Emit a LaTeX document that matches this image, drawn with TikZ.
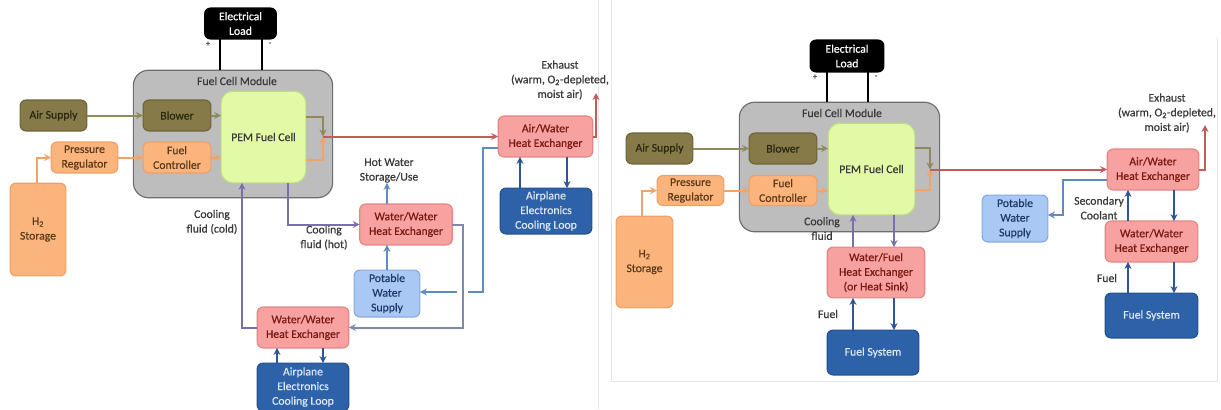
\documentclass[tikz,border=0pt]{standalone}
\usepackage{fontspec}
\setmainfont{Carlito}
\newfontfamily\dfam{Carlito}[FakeBold=0.6]
\usetikzlibrary{arrows.meta,calc}
\definecolor{olvF}{HTML}{857A48}
\definecolor{olvD}{HTML}{6E6438}
\definecolor{olvT}{HTML}{2A2812}
\definecolor{orgF}{HTML}{FBB47C}
\definecolor{orgD}{HTML}{EFA068}
\definecolor{orgT}{HTML}{5C3A1C}
\definecolor{pemF}{HTML}{E2FAA6}
\definecolor{pemD}{HTML}{C2DC86}
\definecolor{modF}{HTML}{BDBDBD}
\definecolor{modD}{HTML}{6E6E6E}
\definecolor{hxF}{HTML}{F7A2A0}
\definecolor{hxD}{HTML}{E48684}
\definecolor{hxT}{HTML}{7A1A14}
\definecolor{dbF}{HTML}{2E62A8}
\definecolor{dbD}{HTML}{24528E}
\definecolor{dbT}{HTML}{DCE6F4}
\definecolor{lbF}{HTML}{A9C8F4}
\definecolor{lbD}{HTML}{86AAE0}
\definecolor{lbT}{HTML}{1F3A6A}
\definecolor{redL}{HTML}{C55A5A}
\definecolor{olvL}{HTML}{8E8A5C}
\definecolor{orgL}{HTML}{F2A468}
\definecolor{purL}{HTML}{7770AA}
\definecolor{gbL}{HTML}{7D89AE}
\definecolor{stL}{HTML}{5E8BC0}
\definecolor{dbL}{HTML}{2F5597}
\definecolor{lblT}{HTML}{3A3A3A}
\definecolor{frameC}{HTML}{E4E4E4}
\newcommand\dfont{\dfam\fontsize{10}{12.5}\selectfont}
\tikzset{
  sz/.style 2 args={minimum width={#1*0.8504pt}, minimum height={#2*0.8504pt}},
  blk/.style={rounded corners=5pt, draw, line width=1pt, inner sep=0pt, outer sep=0pt, align=center, font=\dfont},
  eld/.style={blk, fill=black, draw=black, text=white},
  olv/.style={blk, fill=olvF, draw=olvD, text=olvT},
  org/.style={blk, fill=orgF, draw=orgD, text=orgT},
  pem/.style={blk, rounded corners=10pt, fill=pemF, draw=pemD, text=lblT},
  modu/.style={blk, rounded corners=13pt, fill=modF, draw=modD},
  hx/.style={blk, fill=hxF, draw=hxD, text=hxT},
  db/.style={blk, fill=dbF, draw=dbD, text=dbT},
  lb/.style={blk, fill=lbF, draw=lbD, text=lbT},
  lbl/.style={inner sep=0pt, align=center, font=\dfont, text=lblT},
  sml/.style={inner sep=0pt, font=\dfam\fontsize{7}{8}\selectfont, text=lblT},
  ln/.style={line width=1.7pt},
  tip/.style={-{Stealth[length=6pt,width=6pt,inset=2pt]}},
  olvA/.style={ln, tip, draw=olvL},
  orgA/.style={ln, tip, draw=orgL},
  redA/.style={ln, tip, draw=redL},
  purA/.style={ln, tip, draw=purL},
  gbA/.style={ln, tip, draw=gbL},
  stA/.style={ln, tip, draw=stL},
  stN/.style={ln, draw=stL},
  dbA/.style={ln, tip, draw=dbL},
  wire/.style={line width=1.8pt, draw=black},
  frm/.style={line width=0.8pt, draw=frameC}
}
\begin{document}
\begin{tikzpicture}[x=0.03cm,y=-0.03cm]
\useasboundingbox (0,0) rectangle (1221,409);
\fill[white] (0,0) rectangle (1221,409);
% panel frames
\draw[frm] (598,0) -- (598,409);
\draw[frm] (611,0) -- (611,381) -- (1217,381) -- (1217,38);

% x columns
\foreach \c in {37,220,242,262,277,288,323,520,567,642,827,853,868,894,1128,1174}
  \coordinate (x\c) at (\c,0);

% ================= LEFT PANEL =================
\node[eld, sz={72}{31}] (eload1) at (240.5,23.5) {Electrical\\Load};
\node[modu, sz={200}{128}] (fcm1) at (233,134) {};
\node[lbl] (fcmL1) at (237,81) {Fuel Cell Module};
\node[olv, sz={67}{31}] (air1) at (53.5,115.5) {Air Supply};
\node[olv, sz={68}{31}] (blow1) at (177,115.5) {Blower};
\node[pem, sz={85}{92}] (pem1) at (263.5,137) {PEM Fuel Cell};
\node[org, sz={67}{31}] (preg1) at (84.5,157.5) {Pressure\\Regulator};
\node[org, sz={68}{31}] (fctl1) at (177,157.5) {Fuel\\Controller};
\node[org, sz={56}{93}] (h2s1) at (38,229.5) {H\textsubscript{2}\\Storage};
\node[hx, sz={95}{41}] (awhx1) at (545.5,136.5) {Air/Water\\Heat Exchanger};
\node[db, sz={92}{46}] (ael1) at (546,211) {Airplane\\Electronics\\Cooling Loop};
\node[hx, sz={93}{41}] (wwhx1u) at (406,224.5) {Water/Water\\Heat Exchanger};
\node[lb, sz={66}{47}] (pot1) at (387,293.5) {Potable\\Water\\Supply};
\node[hx, sz={92}{41}] (wwhx1l) at (303,327.5) {Water/Water\\Heat Exchanger};
\node[db, sz={92}{48}] (ael1l) at (303,387) {Airplane\\Electronics\\Cooling Loop};

\node[lbl] (ex1) at (560,80) {Exhaust\\(warm, O\textsubscript{2}-depleted,\\moist air)};
\node[lbl] (hw1) at (389,170.5) {Hot Water\\Storage/Use};
\node[lbl] (cc1) at (212,222) {Cooling\\fluid (cold)};
\node[lbl] (ch1) at (324,237.5) {Cooling\\fluid (hot)};
\node[sml] (pl1) at (208,44) {+};
\node[sml] (mi1) at (270,44) {-};

\coordinate (m1) at (323,136.5);
\coordinate (ex1t) at (596,93);
\coordinate (v1) at (463,327.5);
\coordinate (k1) at (483,292);
\coordinate (g1) at (468,292);
\coordinate (g2) at (457,292);

\draw[wire] (eload1.south -| x220) -- (fcm1.north -| x220);
\draw[wire] (eload1.south -| x262) -- (fcm1.north -| x262);
\draw[olvA] (air1.east) -- (blow1.west);
\draw[olvA] (blow1.east) -- (blow1.east -| pem1.west);
\draw[orgA] (preg1.east) -- (fctl1.west);
\draw[orgA] (fctl1.east) -- (fctl1.east -| pem1.west);
\draw[orgA] (h2s1.north -| x37) |- (preg1.west);
\draw[olvA] ($(pem1.north east)+(0,26)$) -| (m1);
\draw[orgA] ($(pem1.south east)+(0,-23)$) -| (m1);
\draw[redA] (m1) -- (m1 -| awhx1.west);
\draw[redA] (awhx1.east) -| (ex1t);
\draw[dbA] (ael1.north -| x520) -- (awhx1.south -| x520);
\draw[dbA] (awhx1.south -| x567) -- (ael1.north -| x567);
\draw[gbA] (wwhx1u.east) -| (v1) -- (wwhx1l.east);
\draw[stN] ($(awhx1.south west)+(0,-9)$) -| (k1) -- (g1);
\draw[stA] (g2) -- (g2 -| pot1.east);
\draw[purA] (pem1.south -| x288) |- (wwhx1u.west);
\draw[purA] (wwhx1l.west) -| (pem1.south -| x242);
\draw[stA] (pot1.north) -- (pot1.north |- wwhx1u.south);
\draw[stA] (wwhx1u.north -| pot1.north) -- (hw1.south -| pot1.north);
\draw[dbA] (ael1l.north -| x277) -- (wwhx1l.south -| x277);
\draw[dbA] (wwhx1l.south -| x323) -- (ael1l.north -| x323);

% ================= RIGHT PANEL =================
\node[eld, sz={74}{32}] (eload2) at (847,56) {Electrical\\Load};
\node[modu, sz={201}{130}] (fcm2) at (839.5,167) {};
\node[lbl] (fcmL2) at (842,113) {Fuel Cell Module};
\node[olv, sz={67}{31}] (air2) at (659.5,148.5) {Air Supply};
\node[olv, sz={68}{31}] (blow2) at (783,148.5) {Blower};
\node[pem, sz={87}{92}] (pem2) at (871.5,169) {PEM Fuel Cell};
\node[org, sz={67}{30}] (preg2) at (690.5,190.5) {Pressure\\Regulator};
\node[org, sz={68}{30}] (fctl2) at (783,190.5) {Fuel\\Controller};
\node[org, sz={57}{92}] (h2s2) at (644.5,262) {H\textsubscript{2}\\Storage};
\node[hx, sz={92}{41}] (awhx2) at (1153,169.5) {Air/Water\\Heat Exchanger};
\node[lb, sz={66}{47}] (pot2) at (1015,218.5) {Potable\\Water\\Supply};
\node[hx, sz={93}{41}] (wwhx2) at (1151.5,241.5) {Water/Water\\Heat Exchanger};
\node[db, sz={93}{45}] (fs2) at (1151.5,315.5) {Fuel System};
\node[hx, sz={98}{51}] (wfhx) at (876,272.5) {Water/Fuel\\Heat Exchanger\\(or Heat Sink)};
\node[db, sz={92}{45}] (fs1) at (873,352.5) {Fuel System};

\node[lbl] (ex2) at (1167,113) {Exhaust\\(warm, O\textsubscript{2}-depleted,\\moist air)};
\node[lbl] (sc2) at (1099,208) {Secondary\\Coolant};
\node[lbl] (fu2) at (1107,278) {Fuel};
\node[lbl] (cf2) at (822,228.5) {Cooling\\fluid};
\node[lbl] (fu1) at (828,314) {Fuel};
\node[sml] (pl2) at (815,77) {+};
\node[sml] (mi2) at (876,77) {-};

\coordinate (m2) at (930,169.5);
\coordinate (ex2t) at (1205,125);
\coordinate (v2) at (1063,215);

\draw[wire] (eload2.south -| x827) -- (fcm2.north -| x827);
\draw[wire] (eload2.south -| x868) -- (fcm2.north -| x868);
\draw[olvA] (air2.east) -- (blow2.west);
\draw[olvA] (blow2.east) -- (blow2.east -| pem2.west);
\draw[orgA] (preg2.east) -- (fctl2.west);
\draw[orgA] (fctl2.east) -- (fctl2.east -| pem2.west);
\draw[orgA] (h2s2.north -| x642) |- (preg2.west);
\draw[olvA] ($(pem2.north east)+(0,25)$) -| (m2);
\draw[orgA] ($(pem2.south east)+(0,-25)$) -| (m2);
\draw[redA] (m2) -- (m2 -| awhx2.west);
\draw[redA] (awhx2.east) -| (ex2t);
\draw[stA] ($(awhx2.south west)+(0,-10)$) -| (v2) -- (v2 -| pot2.east);
\draw[dbA] (wwhx2.north -| x1128) -- (awhx2.south -| x1128);
\draw[dbA] (awhx2.south -| x1174) -- (wwhx2.north -| x1174);
\draw[dbA] (fs2.north -| x1128) -- (wwhx2.south -| x1128);
\draw[dbA] (wwhx2.south -| x1174) -- (fs2.north -| x1174);
\draw[purA] (wfhx.north -| x853) -- (pem2.south -| x853);
\draw[purA] (pem2.south -| x894) -- (wfhx.north -| x894);
\draw[dbA] (fs1.north -| x853) -- (wfhx.south -| x853);
\draw[dbA] (wfhx.south -| x894) -- (fs1.north -| x894);
\end{tikzpicture}
\end{document}
